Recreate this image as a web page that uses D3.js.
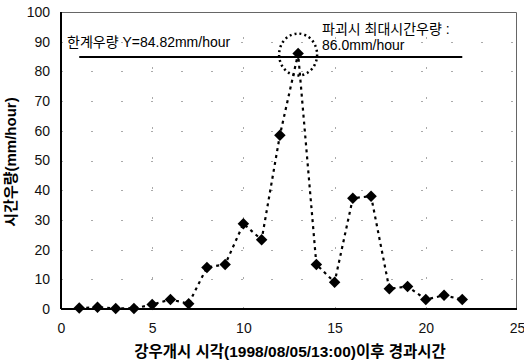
<!DOCTYPE html>
<html>
<head>
<meta charset="utf-8">
<script src="https://cdn.jsdelivr.net/npm/d3@7/dist/d3.min.js"></script>
<style>
  body { margin: 0; background: #fff; }
  svg text { font-family: Arial, "Liberation Sans", "Noto Sans CJK KR", sans-serif; }
</style>
</head>
<body>
<svg id="chart" width="524" height="362"></svg>
<script>
// Hourly rainfall after rain onset
const hours = [1, 2, 3, 4, 5, 6, 7, 8, 9, 10, 11, 12, 13, 14, 15, 16, 17, 18, 19, 20, 21, 22];
const rainfall = [0.3, 0.6, 0.2, 0.2, 1.5, 3.2, 1.8, 14, 15, 28.7, 23.3, 58.5, 86.0, 15, 9, 37.3, 38, 6.8, 7.6, 3.2, 4.6, 3.2];
const xTicks = [0, 5, 10, 15, 20, 25];
const yTicks = [0, 10, 20, 30, 40, 50, 60, 70, 80, 90, 100];
const threshold = 84.82;
const thresholdRange = [1, 22];
const peakHour = 13;
const peakValue = 86.0;

const svg = d3.select("#chart");
const x = d3.scaleLinear().domain([0, 25]).range([61, 517]);
const y = d3.scaleLinear().domain([0, 100]).range([309, 12]);

// sparse dotted grid
const grid = svg.append("g").attr("stroke", "#aaa").attr("stroke-width", 1).attr("stroke-dasharray", "2,28");
grid.selectAll(".gv").data(xTicks.slice(1, -1)).join("line")
  .attr("x1", d => Math.round(x(d)) + 0.5).attr("x2", d => Math.round(x(d)) + 0.5)
  .attr("y1", y(0)).attr("y2", y(100));
grid.selectAll(".gh").data(yTicks.slice(1, -1)).join("line")
  .attr("y1", d => Math.round(y(d)) + 0.5).attr("y2", d => Math.round(y(d)) + 0.5)
  .attr("x1", x(0)).attr("x2", x(25));

// frame (top and right edges)
svg.append("path")
  .attr("d", `M${x(0)},${y(100) + 0.5}H${x(25) - 0.5}V${y(0)}`)
  .attr("fill", "none").attr("stroke", "#666").attr("stroke-width", 1);

// axes
const xAxis = svg.append("g").attr("transform", `translate(0,${y(0)})`)
  .call(d3.axisBottom(x).tickValues(xTicks).tickSize(0).tickPadding(14));
const yAxis = svg.append("g").attr("transform", `translate(${x(0)},0)`)
  .call(d3.axisLeft(y).tickValues(yTicks).tickSize(0).tickPadding(11));
[xAxis, yAxis].forEach(a => {
  a.select(".domain").attr("stroke", "#000").attr("stroke-width", 2);
  a.selectAll("text").attr("font-size", 14).attr("fill", "#111");
});
xAxis.select(".domain").attr("d", `M${x(0)},0H${x(25)}`);
yAxis.select(".domain").attr("d", `M0,${y(0)}V${y(100)}`);

// threshold line
svg.append("line")
  .attr("x1", x(thresholdRange[0])).attr("x2", x(thresholdRange[1]))
  .attr("y1", y(threshold)).attr("y2", y(threshold))
  .attr("stroke", "#000").attr("stroke-width", 2);

// data line
svg.append("path").datum(hours.map((h, i) => [h, rainfall[i]]))
  .attr("fill", "none").attr("stroke", "#000").attr("stroke-width", 2.2)
  .attr("stroke-dasharray", "3,4")
  .attr("d", d3.line().x(d => x(d[0])).y(d => y(d[1])));

// diamond markers (rotated squares)
svg.append("g").selectAll("path").data(hours.map((h, i) => [h, rainfall[i]])).join("path")
  .attr("transform", d => `translate(${x(d[0])},${y(d[1])}) rotate(45)`)
  .attr("d", d3.symbol().type(d3.symbolSquare).size(66))
  .attr("fill", "#000");

// dotted circle around the peak
svg.append("ellipse")
  .attr("cx", x(peakHour)).attr("cy", y(peakValue) + 1)
  .attr("rx", 19).attr("ry", 21)
  .attr("fill", "none").attr("stroke", "#000").attr("stroke-width", 2.5)
  .attr("stroke-dasharray", "2,3");

// annotations
svg.append("text").attr("x", 67).attr("y", 47).attr("font-size", 14)
  .text("한계우량 Y=84.82mm/hour");
svg.append("text").attr("x", 322).attr("y", 34).attr("font-size", 14)
  .text("파괴시 최대시간우량 :");
svg.append("text").attr("x", 322).attr("y", 50).attr("font-size", 14)
  .text("86.0mm/hour");

// axis titles
svg.append("text").attr("x", 290).attr("y", 357).attr("text-anchor", "middle")
  .attr("font-size", 15.5).attr("font-weight", "bold")
  .text("강우개시 시각(1998/08/05/13:00)이후 경과시간");
svg.append("text").attr("transform", "translate(16,162) rotate(-90)")
  .attr("text-anchor", "middle").attr("font-size", 15).attr("font-weight", "bold")
  .text("시간우량(mm/hour)");
</script>
</body>
</html>
